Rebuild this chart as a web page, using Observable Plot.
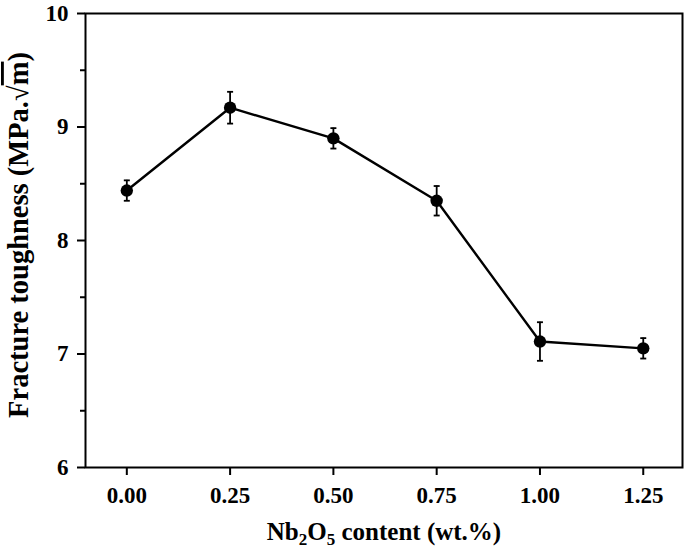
<!DOCTYPE html>
<html>
<head>
<meta charset="utf-8">
<script src="https://cdn.jsdelivr.net/npm/d3@7"></script>
<script src="https://cdn.jsdelivr.net/npm/@observablehq/plot@0.6"></script>
<style>
  html, body { margin: 0; padding: 0; background: #fff; }
</style>
</head>
<body>
<div id="chart"></div>
<script>
// Data
const content = [0.00, 0.25, 0.50, 0.75, 1.00, 1.25];
const toughness = [8.44, 9.17, 8.90, 8.35, 7.11, 7.05];
const errors = [0.09, 0.14, 0.09, 0.13, 0.17, 0.09];
const xTicks = [0.00, 0.25, 0.50, 0.75, 1.00, 1.25];
const yTicks = [6, 7, 8, 9, 10];
const yMinorTicks = [6.5, 7.5, 8.5, 9.5];

const data = content.map((c, i) => ({x: c, y: toughness[i], e: errors[i]}));

const cap = {
  draw(ctx, size) {
    const r = Math.sqrt(size / Math.PI);
    ctx.moveTo(-r, 0);
    ctx.lineTo(r, 0);
  }
};

const font = "'Liberation Serif', 'Times New Roman', serif";

const chart = Plot.plot({
  width: 685,
  height: 552,
  marginLeft: 85,
  marginRight: 3,
  marginTop: 13,
  marginBottom: 85,
  style: {fontFamily: font, fontSize: "23px", fontWeight: "bold", background: "#fff", color: "#000"},
  x: {domain: [-0.1, 1.345]},
  y: {domain: [6, 10]},
  marks: [
    Plot.frame({stroke: "#000", strokeWidth: 2}),
    Plot.axisX({ticks: xTicks, tickSize: 8, tickPadding: 11, tickFormat: d3.format(".2f"), strokeWidth: 2, label: null, fontSize: 23}),
    Plot.axisY({ticks: yTicks, tickSize: 8, tickPadding: 9, tickFormat: d => d, strokeWidth: 2, label: null, fontSize: 23}),
    Plot.axisY({ticks: yMinorTicks, tickSize: 5, text: null, strokeWidth: 2, label: null}),
    Plot.ruleX(data, {x: "x", y1: d => d.y - d.e, y2: d => d.y + d.e, stroke: "#000", strokeWidth: 1.8}),
    Plot.dot(data, {x: "x", y: d => d.y + d.e, symbol: cap, r: 3, stroke: "#000", strokeWidth: 1.8}),
    Plot.dot(data, {x: "x", y: d => d.y - d.e, symbol: cap, r: 3, stroke: "#000", strokeWidth: 1.8}),
    Plot.line(data, {x: "x", y: "y", stroke: "#000", strokeWidth: 2.4}),
    Plot.dot(data, {x: "x", y: "y", r: 6.2, fill: "#000", stroke: "none"})
  ]
});

const svg = d3.select(chart);

// X axis title with subscripts
const xl = svg.append("text")
  .attr("x", 384)
  .attr("y", 540)
  .attr("text-anchor", "middle")
  .attr("font-family", font)
  .attr("font-weight", "bold")
  .attr("font-size", 25)
  .attr("fill", "#000");
xl.append("tspan").text("Nb");
xl.append("tspan").attr("font-size", 17).attr("dy", 5).text("2");
xl.append("tspan").attr("dy", -5).text("O");
xl.append("tspan").attr("font-size", 17).attr("dy", 5).text("5");
xl.append("tspan").attr("dy", -5).text(" content (wt.%)");

// Y axis title
const yl = svg.append("text")
  .attr("transform", "translate(28,235) rotate(-90)")
  .attr("text-anchor", "middle")
  .attr("font-family", font)
  .attr("font-weight", "bold")
  .attr("font-size", 28.5)
  .attr("fill", "#000");
yl.append("tspan").text("Fracture toughness (MPa.√");
yl.append("tspan").attr("text-decoration", "overline").text("m");
yl.append("tspan").text(")");

document.getElementById("chart").appendChild(chart);
</script>
</body>
</html>
